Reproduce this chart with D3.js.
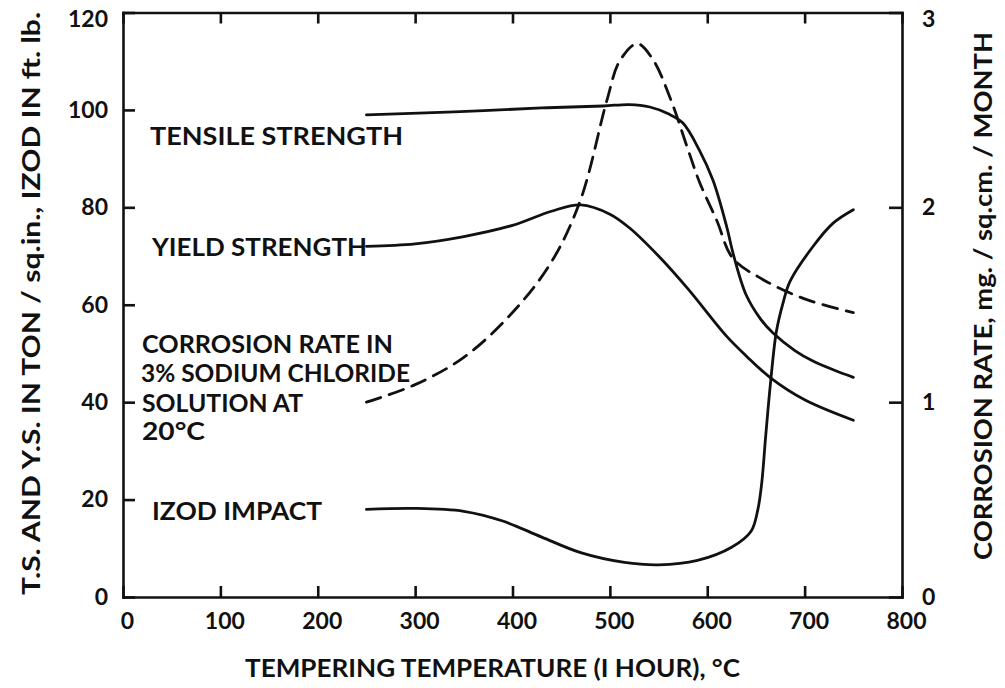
<!DOCTYPE html>
<html lang="en">
<head>
<meta charset="UTF-8">
<title>Tempering temperature chart</title>
<script src="https://d3js.org/d3.v7.min.js"></script>
<style>
    body { margin: 0; background: #fff; }
    svg { display: block; }
    text { font-family: Lato, "DejaVu Sans", sans-serif; font-weight: 700; fill: #111; }
    .axis path, .axis line { stroke: #111; stroke-width: 2.6; }
    .curve { fill: none; stroke: #111; stroke-width: 2.8; stroke-linecap: round; }
</style>
</head>
<body>
<svg id="chart"></svg>
<script>
    // Data
    const tempTicks = [0, 100, 200, 300, 400, 500, 600, 700, 800];
    const leftTicks = [0, 20, 40, 60, 80, 100, 120];
    const rightTicks = [0, 1, 2, 3];

    const tempTS = [250, 340, 430, 493, 520, 541, 560, 575, 592, 606, 620, 627, 640, 655, 667, 690, 708, 730, 750];
    const tensile = [99, 99.6, 100.4, 100.8, 101.1, 100.6, 99.2, 97.3, 91.7, 85.5, 76, 70.2, 62, 57, 54.3, 50.6, 48.5, 46.6, 45.1];

    const tempYS = [250, 300, 350, 400, 440, 470, 500, 520, 550, 580, 620, 640, 665, 700, 750];
    const yieldS = [72, 72.5, 74, 76.3, 79.2, 80.5, 78.6, 75.8, 70, 63.3, 53.5, 49.5, 45, 40.5, 36.3];

    const tempCR = [250, 300, 350, 400, 440, 470, 497, 510, 528, 544, 562, 580, 592, 610, 626, 657, 700, 750];
    const corrosion = [1.0, 1.09, 1.23, 1.46, 1.72, 2.04, 2.55, 2.75, 2.84, 2.76, 2.56, 2.3, 2.13, 1.93, 1.74, 1.63, 1.53, 1.46];

    const tempIZ = [250, 300, 350, 390, 430, 470, 515, 550, 590, 625, 645, 652, 656, 660, 665, 671, 678, 685, 708, 729, 750];
    const izod = [18, 18.2, 17.6, 15.6, 12.3, 9.1, 7.1, 6.6, 7.5, 10.2, 13.5, 18, 23.5, 33, 44, 54.5, 60.5, 64.8, 71.8, 76.7, 79.5];

    const width = 1005, height = 688;
    const svg = d3.select("#chart").attr("width", width).attr("height", height);

    const x = d3.scaleLinear().domain([0, 800]).range([123, 902]);
    const yL = d3.scaleLinear().domain([0, 120]).range([597, 12.5]);
    const yR = d3.scaleLinear().domain([0, 3]).range([597, 12.5]);

    // Axes (ticks point inward)
    svg.append("g").attr("class", "axis")
        .attr("transform", `translate(0,${yL(0)})`)
        .call(d3.axisBottom(x).tickValues(tempTicks).tickSize(-11).tickSizeOuter(0).tickPadding(16))
        .call(g => g.selectAll("text").attr("font-size", 23).attr("dx", 4));

    svg.append("g").attr("class", "axis")
        .attr("transform", `translate(0,${yL(120)})`)
        .call(d3.axisTop(x).tickValues(tempTicks).tickSize(-11).tickSizeOuter(0).tickFormat(""));

    svg.append("g").attr("class", "axis")
        .attr("transform", `translate(${x(0)},0)`)
        .call(d3.axisLeft(yL).tickValues(leftTicks).tickSize(-12).tickSizeOuter(0).tickPadding(15))
        .call(g => g.selectAll("text").attr("font-size", 23)
            .attr("dy", d => d === 120 ? "0.62em" : "0.32em"));

    svg.append("g").attr("class", "axis")
        .attr("transform", `translate(${x(800)},0)`)
        .call(d3.axisRight(yR).tickValues(rightTicks).tickFormat(d3.format("d"))
            .tickSize(-13).tickSizeOuter(0).tickPadding(20))
        .call(g => g.selectAll("text").attr("font-size", 23)
            .attr("dy", d => d === 3 ? "0.62em" : "0.32em"));

    svg.selectAll(".axis .domain").attr("stroke-linecap", "square");

    // Curves
    const lineL = d3.line().x(d => x(d[0])).y(d => yL(d[1])).curve(d3.curveCatmullRom.alpha(0.5));
    const lineR = d3.line().x(d => x(d[0])).y(d => yR(d[1])).curve(d3.curveCatmullRom.alpha(0.5));

    svg.append("path").attr("class", "curve").attr("d", lineL(d3.zip(tempTS, tensile)));
    svg.append("path").attr("class", "curve").attr("d", lineL(d3.zip(tempYS, yieldS)));
    svg.append("path").attr("class", "curve").attr("d", lineL(d3.zip(tempIZ, izod)));
    svg.append("path").attr("class", "curve")
        .attr("stroke-dasharray", "15,9")
        .attr("stroke-linecap", "butt")
        .attr("d", lineR(d3.zip(tempCR, corrosion)));

    // Annotations
    const notes = [
        { t: "TENSILE STRENGTH", x: 150, y: 145, w: 253 },
        { t: "YIELD STRENGTH", x: 152, y: 256, w: 215 },
        { t: "CORROSION RATE IN", x: 142, y: 353, w: 251 },
        { t: "3% SODIUM CHLORIDE", x: 141, y: 382, w: 269 },
        { t: "SOLUTION AT", x: 142, y: 412, w: 161 },
        { t: "20°C", x: 142, y: 440, w: 63 },
        { t: "IZOD IMPACT", x: 152, y: 520, w: 170 }
    ];
    svg.selectAll(".note").data(notes).join("text")
        .attr("class", "note")
        .attr("x", d => d.x).attr("y", d => d.y)
        .attr("font-size", 24)
        .attr("textLength", d => d.w)
        .attr("lengthAdjust", "spacingAndGlyphs")
        .text(d => d.t);

    // Axis titles
    svg.append("text")
        .attr("x", 245).attr("y", 677)
        .attr("font-size", 24)
        .attr("textLength", 495).attr("lengthAdjust", "spacingAndGlyphs")
        .text("TEMPERING TEMPERATURE (I HOUR), °C");

    svg.append("text")
        .attr("transform", "translate(40,595) rotate(-90)")
        .attr("font-size", 24)
        .attr("textLength", 583).attr("lengthAdjust", "spacingAndGlyphs")
        .text("T.S. AND Y.S. IN TON / sq.in., IZOD IN ft. lb.");

    svg.append("text")
        .attr("transform", "translate(992,560) rotate(-90)")
        .attr("font-size", 24)
        .attr("textLength", 528).attr("lengthAdjust", "spacingAndGlyphs")
        .text("CORROSION RATE, mg. / sq.cm. / MONTH");
</script>
</body>
</html>
